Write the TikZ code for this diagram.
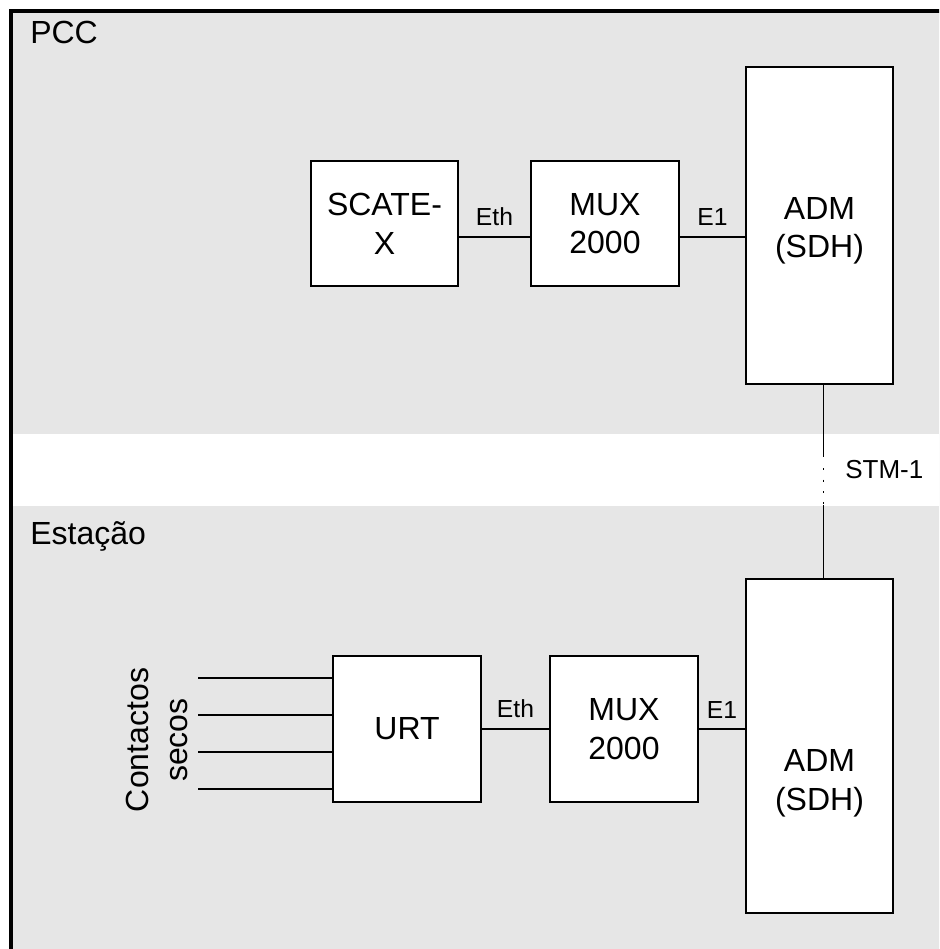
\documentclass[tikz,border=0pt]{standalone}
\usepackage{fontspec}
\setmainfont{Liberation Sans}
\usetikzlibrary{positioning, calc}
\definecolor{zonegray}{HTML}{E6E6E6}

\begin{document}
\begin{tikzpicture}[
  x=0.75pt, y=-0.75pt,
  box/.style  = {draw, fill=white, line width=1.5pt, align=center,
                 inner sep=0pt, font=\fontsize{24}{29}\selectfont},
  boxtext/.style = {align=center, inner sep=0pt, font=\fontsize{24}{29}\selectfont},
  lab/.style  = {font=\fontsize{18.5}{21}\selectfont, inner sep=2pt},
  zone/.style = {font=\fontsize{24}{29}\selectfont, anchor=base west, inner sep=0pt},
  link/.style = {line width=1.4pt}
]
\useasboundingbox (0,0) rectangle (939,949);
\clip (0,0) rectangle (939,949);

% zones
\draw[line width=2.4pt, fill=zonegray] (11,11) rectangle (990,990);
\fill[white] (13,434) rectangle (990,506);
\node[zone] (pcc) at (30,44) {PCC};
\node[zone] (est) at (30,544) {Estação};

% PCC
\node[box, minimum width=110.25pt, minimum height=93.75pt] (scate) at (384.5,223.5) {SCATE-\\X};
\node[box, minimum width=111pt, minimum height=93.75pt] (mux1) at (605,223.5) {MUX\\2000};
\node[box, minimum width=110.25pt, minimum height=237.75pt] (adm1) at (819.5,225.5) {};
\node[boxtext] (adm1txt) at ([yshift=-4pt]adm1.center) {ADM\\(SDH)};

% Estacao
\node[box, minimum width=111pt, minimum height=109.5pt] (urt) at (407,729) {URT};
\node[box, minimum width=111pt, minimum height=109.5pt] (mux2) at (624,729) {MUX\\2000};
\node[box, minimum width=110.25pt, minimum height=250.5pt] (adm2) at (819.5,746) {};
\node[boxtext] (adm2txt) at ([yshift=-28pt]adm2.center) {ADM\\(SDH)};
\node[boxtext, rotate=90] (cont) at (157,740) {Contactos\\secos};

% links
\coordinate (eth1) at ([yshift=-10pt]scate.east);
\coordinate (e1a) at ([yshift=-10pt]mux1.east);
\draw[link] (eth1) -- node[lab, above=5.5pt] {Eth} (eth1 -| mux1.west);
\draw[link] (e1a) -- node[lab, above=5.5pt] {E1} (e1a -| adm1.west);
\draw[link] (urt) -- node[lab, above=5.5pt] {Eth} (mux2);
\draw[link] (mux2) -- node[lab, above=5.5pt] {E1} (mux2 -| adm2.west);

\foreach \y [count=\i] in {678,715,752,789}
  \coordinate (c\i) at (198,\y);
\foreach \i in {1,...,4}
  \draw[link] (c\i) -- (c\i -| urt.west);

% STM-1
\coordinate (s1) at ([xshift=3pt]adm1.south |- 0,457);
\coordinate (s2) at ([xshift=3pt]adm1.south |- 0,505);
\draw[link] ([xshift=3pt]adm1.south) -- (s1);
\draw[link, dash pattern=on 1.5pt off 7pt] ([yshift=-8.5pt]s1) -- (s2);
\draw[link] (s2) -- (s2 |- adm2.north);
\node[font=\fontsize{19.5}{23}\selectfont, anchor=base west, inner sep=0pt] (stm) at (845,478) {STM-1};
\end{tikzpicture}
\end{document}
